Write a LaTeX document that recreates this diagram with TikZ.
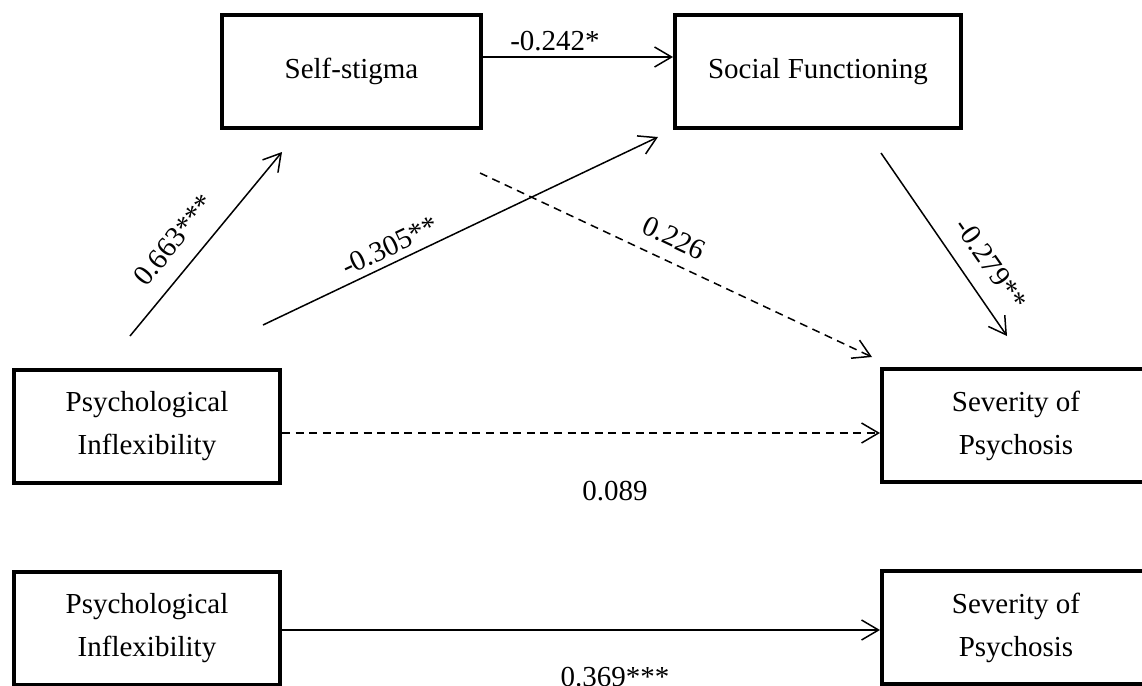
\documentclass[tikz,border=0pt]{standalone}
\usepackage{fontspec}
\setmainfont{Liberation Serif}
\usetikzlibrary{arrows.meta,calc}
\begin{document}
\begin{tikzpicture}[x=0.5pt,y=-0.5pt,
  txt/.style={font=\fontsize{14.5}{21.5}\selectfont, inner sep=0pt},
  box/.style={txt, draw, line width=2pt, align=center, minimum height=56.5pt},
  arr/.style={line width=0.75pt, -{Straight Barb[length=8.5pt,width=10pt]}},
  dsh/.style={dash pattern=on 4pt off 2.8pt}]
\useasboundingbox (0,0) rectangle (1142,686);
% boxes
\node[box, minimum width=129.5pt] (ss) at (351.5,71.5) {Self-stigma};
\node[box, minimum width=143pt] (sf) at (818,71.5) {Social Functioning};
\node[box, minimum width=133pt] (pi) at (147,426.5) {Psychological\\Inflexibility};
\node[box, minimum width=134pt] (sp) at (1016,425.5) {Severity of\\Psychosis};
\node[box, minimum width=133pt] (pib) at (147,628.5) {Psychological\\Inflexibility};
\node[box, minimum width=134pt] (spb) at (1016,627.5) {Severity of\\Psychosis};
% helper coordinates
\coordinate (y57) at (0,57);
\coordinate (y433) at (0,433);
\coordinate (y630) at (0,630);
\coordinate (a1s) at (130,336);
\coordinate (a1e) at (282,152);
\coordinate (a2s) at (263,325);
\coordinate (a2e) at (658,137);
\coordinate (a3s) at (480,173);
\coordinate (a3e) at (872,357);
\coordinate (a4s) at (881,153);
\coordinate (a4e) at (1007,336);
% connectors
\draw[arr] (ss.east |- y57) -- (sf.west |- y57);
\draw[arr] (a1s) -- (a1e);
\draw[arr] (a2s) -- (a2e);
\draw[arr,dsh] (a3s) -- (a3e);
\draw[arr] (a4s) -- (a4e);
\draw[arr,dsh] (pi.east |- y433) -- (sp.west |- y433);
\draw[arr] (pib.east |- y630) -- (spb.west |- y630);
% labels
\node[txt, anchor=base] (l1) at (555,50) {-0.242*};
\node[txt, rotate=50.4] (l2) at (174,240) {0.663***};
\node[txt, rotate=25.4] (l3) at (390,246) {-0.305**};
\node[txt, rotate=-25.2] (l4) at (674,238) {0.226};
\node[txt, rotate=-55.2] (l5) at (991,264) {-0.279**};
\node[txt] (l6) at (615,491) {0.089};
\node[txt] (l7) at (615,677) {0.369***};
\end{tikzpicture}
\end{document}
